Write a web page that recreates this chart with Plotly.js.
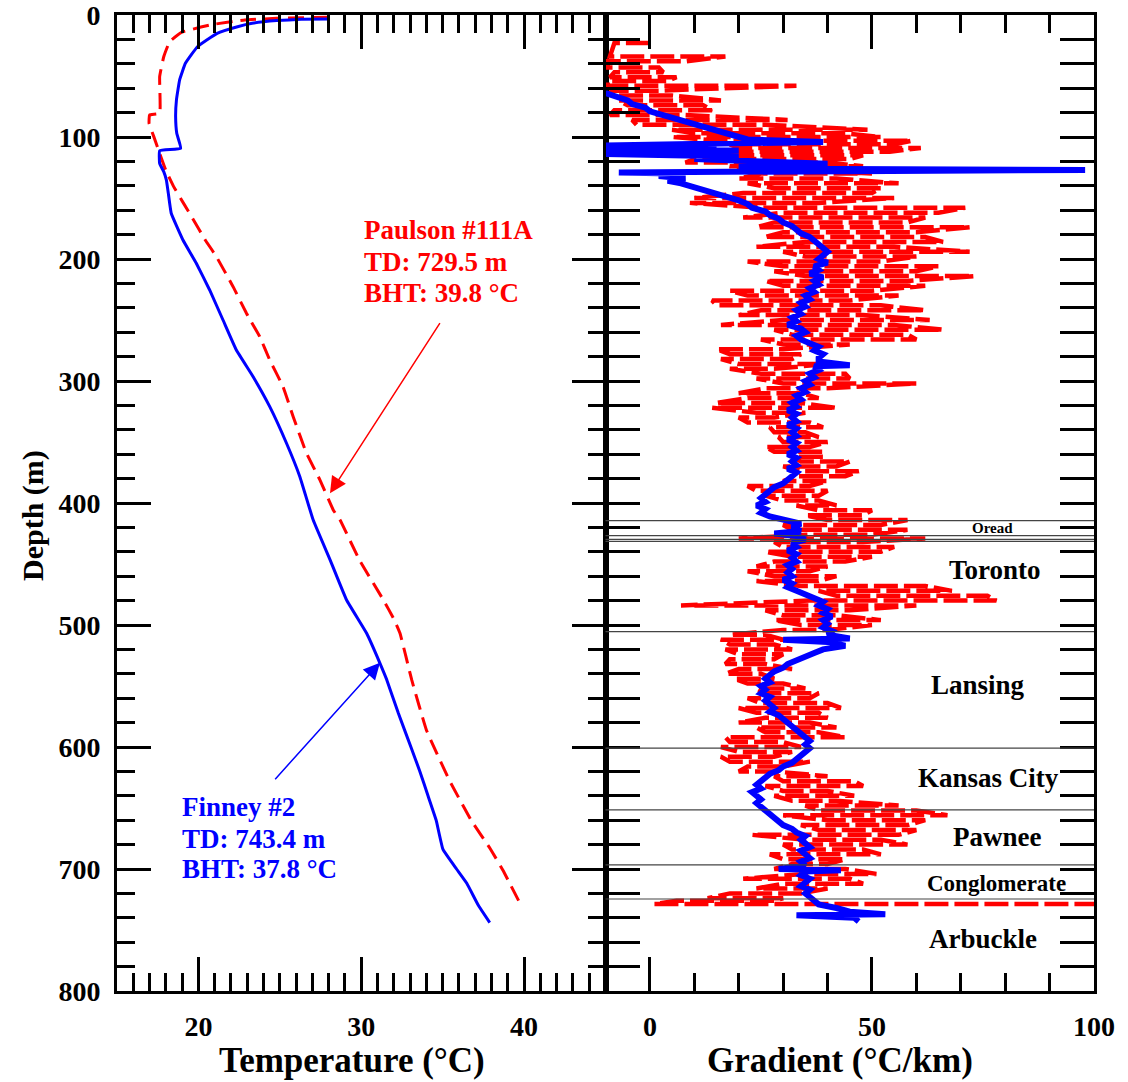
<!DOCTYPE html>
<html>
<head>
<meta charset="utf-8">
<script src="https://cdn.plot.ly/plotly-3.0.1.min.js"></script>
<style>html,body{margin:0;padding:0;background:#fff;}#chart{width:1128px;height:1082px;}</style>
</head>
<body>
<div id="chart"></div>
<script>
// ---------- Temperature logs (left panel) ----------
const finneyTempDepth = [3.3, 3.5, 4.6, 6.8, 9.6, 15, 26, 39.6, 53, 69.7, 83.3, 97, 109.3, 111.2, 121.6, 128.4, 135.2, 146, 162.5, 184.4, 203.5, 225.4, 250, 274.6, 296.5, 321, 351, 378.4, 414, 447, 479.5, 506.8, 531.4, 545, 572.4, 600, 620, 640, 660, 684, 700, 711.7, 730, 744];
const finneyTemp = [27.97, 26.3, 24.8, 23.3, 22.4, 21.15, 19.94, 19.2, 18.85, 18.65, 18.6, 18.67, 18.91, 17.62, 17.62, 17.87, 18.03, 18.15, 18.33, 19.05, 19.87, 20.69, 21.51, 22.33, 23.36, 24.38, 25.41, 26.23, 27.05, 28.1, 29.1, 30.33, 31.15, 31.57, 32.28, 33.05, 33.6, 34.1, 34.6, 35.02, 35.85, 36.48, 37.2, 37.89];

const paulsonTempDepth = [1.9, 2.7, 4.1, 7.7, 14.2, 21.9, 34.2, 50.5, 80.6, 82, 88.8, 99.7, 113.4, 127, 140.7, 154.4, 168, 184.4, 198, 222.7, 244.5, 263.7, 282.8, 304.7, 329.3, 359.3, 381, 405.7, 414, 447, 479.5, 495, 506.8, 545, 586, 627, 660, 684, 701, 729.5];
const paulsonTemp = [27.97, 24.8, 22.85, 20.9, 18.96, 18.23, 17.87, 17.62, 17.62, 17.0, 16.97, 17.26, 17.62, 17.99, 18.48, 19.09, 19.7, 20.42, 21.1, 22.13, 22.95, 23.77, 24.38, 25.2, 25.82, 26.64, 27.46, 28.28, 28.7, 29.9, 31.36, 32.0, 32.38, 33.1, 34.0, 35.4, 36.75, 37.95, 38.7, 39.8];

// ---------- Gradient logs (right panel) ----------
// Paulson #111A gradient: one horizontal stroke per depth row (left / right end)
const paulsonGradDepth = [
 23,34,38,43,47,51,54,58,62,66,
 70,74,78,82,86,90,94,97,100,103,
 106,109,112,115,118,121,124,127,130,134,
 138,142,146,150,154,158,162,166,170,174,
 178,182,186,190,194,198,202,206,210,214,
 218,222,226,230,234,238,242,246,250,254,
 258,262,266,270,274,278,282,286,290,294,
 298,302,306,310,314,318,322,326,330,334,
 338,342,346,350,354,358,362,366,370,374,
 378,382,386,390,394,398,402,406,410,414,
 418,422,426,429,432,436,440,444,448,452,
 456,460,464,468,472,476,480,484,488,492,
 496,500,504,508,512,516,520,524,528,532,
 536,540,544,548,552,556,560,564,568,572,
 576,580,584,588,592,596,600,604,608,612,
 616,620,624,628,632,636,640,644,648,652,
 656,660,664,668,672,676,680,684,688,692,
 696,700,704,708,712,716,720,724,726,728.7];
const paulsonGradLo = [
 -8,-9,-9.5,-9.5,-8,-9,-9.5,-9.5,-9,-8,
 -7,-5,-8,-9,-4,-3,5,10,5,15,
 18,20,14,19,10,8,18,20,25,20,
 22,28,21,10,9,25,30,21,28,24,
 30,26,35,24,30,35,22,30,28,35,
 26,30,18,22,14,15,25,20,30,16,
 28,32,25,30,15,18,16,20,18,25,
 24,30,26,20,22,15,14,24,20,22,
 27,28,29,30,26,28,32,34,30,34,
 33,30,22,24,26,30,33,38,35,40,
 30,32,36,20,28,30,26,32,28,24,
 22,28,24,34,38,42,36,7,26,30,
 28,34,30,18,16,18,17,20,18,17,
 20,17,19,22,24,26,22,25,20,24,
 26,20,24,26,17,18,16,20,16,18,
 22,20,28,30,26,30,28,32,35,38,
 30,40,34,38,23,35,30,32,27,30,
 32,28,35,21,30,24,18,13,6,1];
const paulsonGradHi = [
 0,17,8,2,3,6,4,33,2,5,
 16,12,14,8,31,26,49,44,52,59,
 55,61,54,48,45,40,48,35,50,42,
 56,52,50,55,38,71,65,62,58,72,
 60,62,66,55,72,60,52,65,60,73,
 58,62,50,56,45,52,62,48,63,55,
 66,58,60,45,30,34,32,40,28,44,
 45,60,40,34,38,34,42,35,28,36,
 39,35,38,40,36,39,39,45,42,47,
 44,40,36,40,38,38,42,50,48,58,
 52,58,50,62,48,55,52,50,44,40,
 36,42,38,62,68,76,78,60,45,42,
 52,50,40,26,30,28,32,30,28,26,
 32,25,28,30,35,38,36,40,43,38,
 40,36,42,38,44,30,34,32,28,36,
 30,28,40,46,48,40,46,42,56,60,
 67,62,58,60,56,52,58,48,52,44,
 40,44,51,45,48,40,34,30,28,100];

// Finney #2 gradient
const finneyGradDepth = [
 64,67,70,73,76,79,82,85,88,91,94,97,100,102,104,105,107,108,110,111,
 113,114,116,118,120,122,124,126,127,128,129,130,132,134,136,138,140,143,146,149,
 152,155,158,161,164,167,170,173,176,179,182,185,188,191,194,197,200,203,206,209,
 212,215,218,221,224,227,230,233,236,239,242,245,248,251,254,257,260,263,266,269,
 272,275,278,281,284,287,288,291,294,297,300,303,306,309,312,315,318,321,324,327,
 330,333,336,339,342,345,348,351,354,357,360,363,366,369,372,375,378,381,384,387,
 390,393,396,399,402,405,408,411,414,417,420,423,425,427,430,433,436,439,442,445,
 448,451,454,457,460,463,466,469,472,475,478,481,484,487,490,493,496,499,502,505,
 508,511,512,514,517,520,523,526,529,532,535,538,541,544,547,550,553,556,559,562,
 565,568,571,574,577,580,583,586,589,592,595,598,601,604,607,610,613,616,619,622,
 625,628,631,634,637,640,643,646,649,652,655,658,661,664,667,670,673,676,679,682,
 685,688,691,694,697,700,701,702,705,708,711,714,717,720,723,726,729,732,735,737,
 738,740,743];
const finneyGrad = [
 -10,-7,-5,-4,-1,0,3,6,8,11,14,17,20,22,39,18,-10,15,-10,20,
 5,-10,20,10,25,40,20,30,98,20,-7,5,2,8,4,7,9,12,14,17,
 20,22,23,26,27,29,30,32,33,34,36,37,38,39,40,39,38,40,37,38,
 36,39,37,38,36,37,35,36,34,35,33,34,32,33,31,34,35,33,34,36,
 38,37,39,38,38,45,37,38,36,37,35,36,34,35,33,34,32,33,31,33,
 32,33,31,33,32,33,31,33,32,33,31,33,32,33,31,33,32,31,30,28,
 27,26,25,26,24,26,25,27,31,34,32,34,28,33,35,32,33,31,33,32,
 33,31,32,31,32,30,32,31,33,35,37,39,38,40,39,41,39,40,39,41,
 40,45,30,40,44,39,37,35,33,31,30,28,27,26,27,25,26,25,27,26,
 27,28,27,29,30,31,32,33,34,35,36,35,36,35,34,33,32,30,29,27,
 26,25,24,25,23,24,25,24,25,26,27,28,29,30,32,33,35,34,35,36,
 34,35,36,34,35,29,43,35,34,36,35,34,36,35,36,37,38,42,45,53,
 33,46,47];

// Formation tops (depth, m) and labels
const formationTops = [414.5, 426.8, 429.8, 431.4, 505.5, 601, 651.6, 696.7, 724.6];
const formationNames = ['Oread', 'Toronto', 'Lansing', 'Kansas City', 'Pawnee', 'Conglomerate', 'Arbuckle'];
const formationLabelDepth = [420.7, 455, 549, 625.4, 673.8, 711.5, 757.4];
const formationLabelGrad = [77.1, 77.6, 73.8, 76.2, 78.1, 78.1, 74.9];
const formationLabelSize = [15, 27, 27, 27, 27, 23, 27];

// Well annotations
const paulsonLines = ['Paulson #111A', 'TD: 729.5 m', 'BHT: 39.8 °C'];
const paulsonLineDepth = [176.2, 202.2, 228.1];
const finneyLines = ['Finney #2', 'TD: 743.4 m', 'BHT: 37.8 °C'];
const finneyLineDepth = [649.4, 675.7, 700.2];

const RED = '#ff0000', BLUE = '#0000ff';

// build stroke path for the dashed gradient log
const pgX = [], pgY = [];
for (let i = 0; i < paulsonGradDepth.length; i++) {
  if (i % 2 === 0) { pgX.push(paulsonGradHi[i], paulsonGradLo[i]); }
  else { pgX.push(paulsonGradLo[i], paulsonGradHi[i]); }
  pgY.push(paulsonGradDepth[i], paulsonGradDepth[i]);
}

const traces = [
  {x: paulsonTemp, y: paulsonTempDepth, xaxis: 'x', yaxis: 'y', mode: 'lines',
   line: {color: RED, width: 3, dash: '16px,8px', shape: 'spline', smoothing: 0.3}},
  {x: finneyTemp, y: finneyTempDepth, xaxis: 'x', yaxis: 'y', mode: 'lines',
   line: {color: BLUE, width: 3, shape: 'spline', smoothing: 0.3}},
  {x: pgX, y: pgY, xaxis: 'x2', yaxis: 'y', mode: 'lines',
   line: {color: RED, width: 4.5, dash: '24px,6px'}},
  {x: finneyGrad, y: finneyGradDepth, xaxis: 'x2', yaxis: 'y', mode: 'lines',
   line: {color: BLUE, width: 6}}
];

const tickFont = {family: 'Liberation Serif', size: 28, color: 'black', weight: 'bold'};
function axisBase() {
  return {showline: true, linewidth: 3, linecolor: 'black', mirror: 'allticks',
    ticks: 'inside', ticklen: 34, tickwidth: 3, tickcolor: 'black', ticklabeloverflow: 'allow',
    showgrid: false, zeroline: false, tickfont: tickFont, tickmode: 'linear', tick0: 0};
}

const xaxis = Object.assign(axisBase(), {domain: [0, 0.5], range: [15, 45], anchor: 'y', dtick: 10,
  ticklabelstandoff: 8,
  minor: {dtick: 1, tick0: 0, ticks: 'inside', ticklen: 18, tickwidth: 3, tickcolor: 'black', showgrid: false}});
const xaxis2 = Object.assign(axisBase(), {domain: [0.5, 1], range: [-10, 100], anchor: 'y', dtick: 50,
  ticklabelstandoff: 8,
  minor: {dtick: 10, tick0: 0, ticks: 'inside', ticklen: 18, tickwidth: 3, tickcolor: 'black', showgrid: false}});
const yaxis = Object.assign(axisBase(), {range: [800, 0], anchor: 'x', dtick: 100,
  ticklabelstandoff: 8,
  minor: {dtick: 20, tick0: 0, ticks: 'inside', ticklen: 18, tickwidth: 3, tickcolor: 'black', showgrid: false}});

const shapes = formationTops.map(d => ({type: 'line', xref: 'x2 domain', yref: 'y', x0: 0, x1: 1, y0: d, y1: d,
  line: {color: '#444444', width: 1.2}, layer: 'above'}));

const annotations = [];
const titleFont = {family: 'Liberation Serif', size: 35, color: 'black', weight: 'bold'};
annotations.push({xref: 'paper', yref: 'paper', x: 0.2405, y: -0.0707, text: 'Temperature (°C)', showarrow: false,
  font: titleFont, xanchor: 'center', yanchor: 'middle'});
annotations.push({xref: 'paper', yref: 'paper', x: 0.740, y: -0.0707, text: 'Gradient (°C/km)', showarrow: false,
  font: titleFont, xanchor: 'center', yanchor: 'middle'});
annotations.push({xref: 'paper', yref: 'paper', x: -0.086, y: 0.4877, text: 'Depth (m)', showarrow: false,
  font: Object.assign({}, titleFont, {size: 30}), textangle: -90, xanchor: 'center', yanchor: 'middle'});

formationNames.forEach((n, i) => annotations.push({xref: 'x2', yref: 'y', x: formationLabelGrad[i], y: formationLabelDepth[i],
  text: n, showarrow: false, xanchor: 'center', yanchor: 'middle',
  font: {family: 'Liberation Serif', size: formationLabelSize[i], color: 'black', weight: 'bold'}}));

paulsonLines.forEach((t, i) => annotations.push({xref: 'x', yref: 'y', x: 30.13, y: paulsonLineDepth[i], text: t,
  showarrow: false, xanchor: 'left', yanchor: 'middle', borderpad: 0,
  font: {family: 'Liberation Serif', size: 27, color: RED, weight: 'bold'}}));
finneyLines.forEach((t, i) => annotations.push({xref: 'x', yref: 'y', x: 18.95, y: finneyLineDepth[i], text: t,
  showarrow: false, xanchor: 'left', yanchor: 'middle', borderpad: 0,
  font: {family: 'Liberation Serif', size: 27, color: BLUE, weight: 'bold'}}));

// arrows
annotations.push({xref: 'x', yref: 'y', axref: 'x', ayref: 'y', x: 28.08, y: 392, ax: 34.89, ay: 251.4, text: '',
  showarrow: true, arrowhead: 2, arrowsize: 2.2, arrowwidth: 1.5, arrowcolor: RED, standoff: 0});
annotations.push({xref: 'x', yref: 'y', axref: 'x', ayref: 'y', x: 31.15, y: 530.9, ax: 24.63, ay: 627.6, text: '',
  showarrow: true, arrowhead: 2, arrowsize: 2.2, arrowwidth: 1.5, arrowcolor: BLUE, standoff: 0});

const layout = {
  width: 1128, height: 1082,
  margin: {l: 117, r: 34, t: 15, b: 91},
  paper_bgcolor: 'white', plot_bgcolor: 'white',
  showlegend: false,
  font: {family: 'Liberation Serif', color: 'black'},
  xaxis: xaxis, xaxis2: xaxis2, yaxis: yaxis,
  shapes: shapes, annotations: annotations
};

Plotly.newPlot('chart', traces, layout, {displayModeBar: false, staticPlot: true});
</script>
</body>
</html>
